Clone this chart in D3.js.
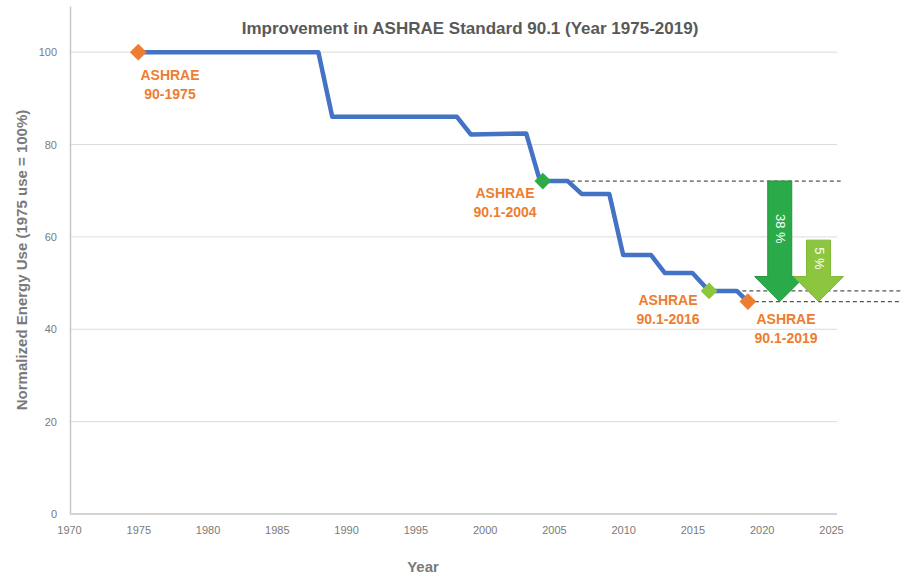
<!DOCTYPE html>
<html>
<head>
<meta charset="utf-8">
<script src="https://cdn.jsdelivr.net/npm/d3@7"></script>
<style>
  body { margin: 0; background: #fff; }
  svg { display: block; font-family: "Liberation Sans", Arial, sans-serif; }
</style>
</head>
<body>
<svg id="chart" width="901" height="575"></svg>
<script>
// step line, year -> normalized energy use
var years  = [1975, 1988, 1989, 1998, 1999, 2003, 2004, 2006, 2007, 2009, 2010, 2012, 2013, 2015, 2016.2, 2018.2, 2019];
var values = [100, 100, 86, 86, 82.2, 82.4, 72.1, 72.1, 69.3, 69.3, 56.1, 56.1, 52.2, 52.2, 48.3, 48.3, 46];

// standard editions that get a marker + label
var stdNames  = ["ASHRAE\n90-1975", "ASHRAE\n90.1-2004", "ASHRAE\n90.1-2016", "ASHRAE\n90.1-2019"];
var stdYears  = [1975, 2004.2, 2016.2, 2019];
var stdValues = [100, 72.1, 48.3, 46];
var stdColors = ["#ed7d31", "#2eaa4a", "#8cc63f", "#ed7d31"];

// savings arrows
var arrowLabels = ["38 %", "5 %"];
var arrowYears  = [2021.3, 2024.1];
var arrowTops   = [72.1, 59.3];
var arrowColors = ["#2aaa48", "#8cc63f"];

var xTicks = d3.range(1970, 2026, 5);
var yTicks = [0, 20, 40, 60, 80, 100];

var svg = d3.select("#chart");
var x = d3.scaleLinear().domain([1970, 2025]).range([69, 831]);
var y = d3.scaleLinear().domain([0, 110]).range([514, 6]);
var grey = "#7a7a7a";

// gridlines
svg.append("g").selectAll("line").data(yTicks.slice(1)).join("line")
  .attr("x1", 70).attr("x2", 837)
  .attr("y1", d => y(d)).attr("y2", d => y(d))
  .attr("stroke", "#dcdcdc").attr("stroke-width", 1);

// axes
var yAxis = svg.append("g").attr("transform", "translate(70,0)")
  .call(d3.axisLeft(y).tickValues(yTicks).tickSize(0).tickPadding(13));
yAxis.select(".domain").attr("stroke", "#c8c8c8").attr("stroke-width", 1.5);
yAxis.selectAll("text").attr("fill", grey).attr("font-size", 11);

var xAxis = svg.append("g").attr("transform", "translate(0,514)")
  .call(d3.axisBottom(x).tickValues(xTicks).tickFormat(d3.format("d")).tickSize(0).tickPadding(12));
xAxis.select(".domain").attr("d", "M70,0H837").attr("stroke", "#d4d4d4").attr("stroke-width", 2);
xAxis.selectAll("text").attr("fill", grey).attr("font-size", 11);

// titles
svg.append("text").attr("x", 470).attr("y", 34).attr("text-anchor", "middle")
  .attr("font-size", 17).attr("font-weight", "bold").attr("fill", "#595959")
  .text("Improvement in ASHRAE Standard 90.1 (Year 1975-2019)");
svg.append("text").attr("transform", "translate(27,260) rotate(-90)").attr("text-anchor", "middle")
  .attr("font-size", 15).attr("font-weight", "bold").attr("fill", grey)
  .text("Normalized Energy Use (1975 use = 100%)");
svg.append("text").attr("x", 423).attr("y", 572).attr("text-anchor", "middle")
  .attr("font-size", 15).attr("font-weight", "bold").attr("fill", grey)
  .text("Year");

// dashed reference lines
var dashes = [[stdYears[1], 2025.7, stdValues[1]], [2018.6, 2030, stdValues[2]], [2019, 2030, stdValues[3]]];
svg.append("g").selectAll("line").data(dashes).join("line")
  .attr("x1", d => x(d[0])).attr("x2", d => x(d[1]))
  .attr("y1", d => y(d[2])).attr("y2", d => y(d[2]))
  .attr("stroke", "#555").attr("stroke-width", 1.2).attr("stroke-dasharray", "4,3");

// the step line
var pts = years.map((d, i) => [d, values[i]]);
svg.append("path").datum(pts)
  .attr("d", d3.line().x(d => x(d[0])).y(d => y(d[1])))
  .attr("fill", "none").attr("stroke", "#4472c4").attr("stroke-width", 4.5)
  .attr("stroke-linejoin", "round");

// arrows
var shaftHalf = 12, headHalf = 25, headLen = 25;
arrowYears.forEach(function(yr, i) {
  var cx = x(yr), top = y(arrowTops[i]), tip = y(stdValues[3]), hs = tip - headLen;
  var p = [[cx - shaftHalf, top], [cx + shaftHalf, top], [cx + shaftHalf, hs], [cx + headHalf, hs],
           [cx, tip], [cx - headHalf, hs], [cx - shaftHalf, hs]];
  svg.append("path").attr("d", "M" + p.join("L") + "Z")
    .attr("fill", arrowColors[i]).attr("stroke", i ? "#7fb93a" : "#23913d").attr("stroke-width", 1);
  var ty = (top + hs) / 2;
  svg.append("text").attr("transform", "translate(" + (cx - 4) + "," + ty + ") rotate(90)")
    .attr("text-anchor", "middle").attr("font-size", 13).attr("fill", "#fff")
    .text(arrowLabels[i]);
});

// markers
svg.append("g").selectAll("path").data(stdYears).join("path")
  .attr("transform", (d, i) => "translate(" + x(d) + "," + y(stdValues[i]) + ")")
  .attr("d", d3.symbol().type(d3.symbolDiamond2).size(180))
  .attr("fill", (d, i) => stdColors[i]);

// edition labels
var labelPos = [[170, 80], [505, 198], [668, 305], [786, 324]];
stdNames.forEach(function(name, i) {
  var t = svg.append("text").attr("x", labelPos[i][0]).attr("y", labelPos[i][1])
    .attr("text-anchor", "middle").attr("font-size", 14).attr("font-weight", "bold")
    .attr("fill", "#ed7d31");
  name.split("\n").forEach(function(s, j) {
    t.append("tspan").attr("x", labelPos[i][0]).attr("dy", j ? 19 : 0).text(s);
  });
});
</script>
</body>
</html>
